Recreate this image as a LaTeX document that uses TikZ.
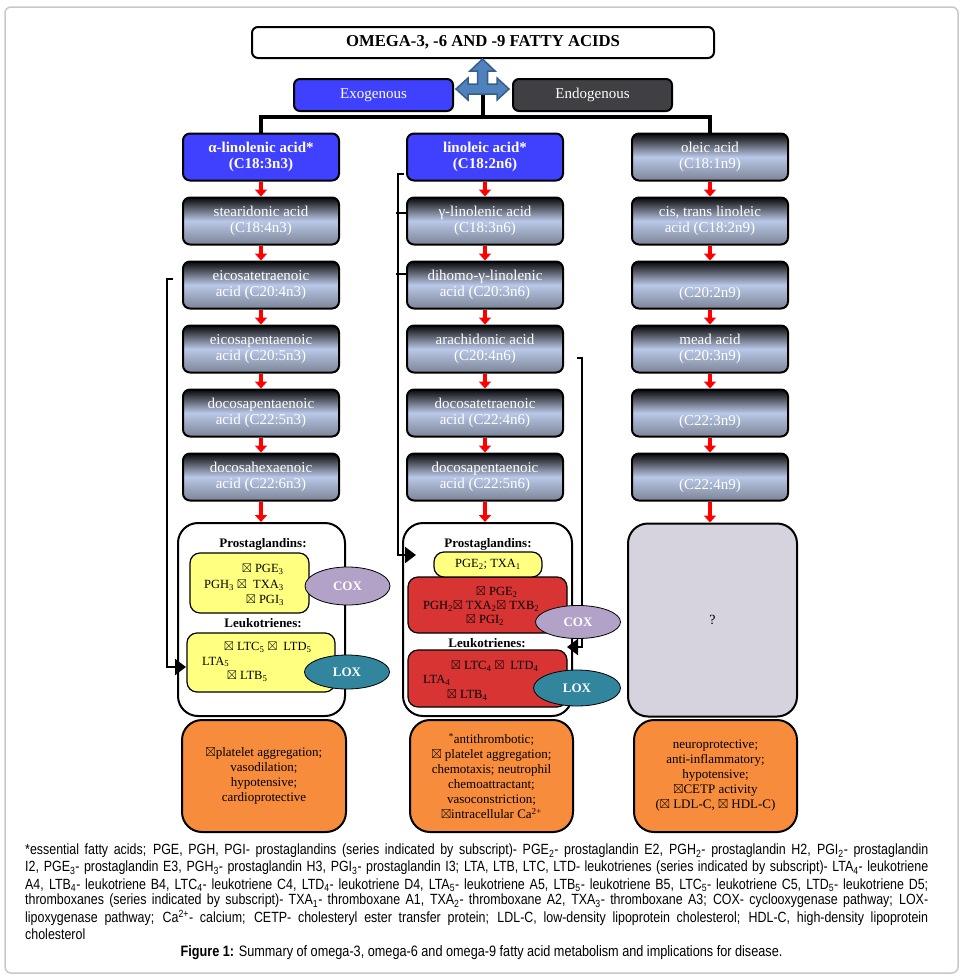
\documentclass[tikz,border=0pt]{standalone}
\usepackage{amssymb}
\usepackage{fontspec}
\setmainfont{Liberation Serif}
\newfontfamily\notefont[FakeStretch=0.84]{Liberation Sans}
\usetikzlibrary{shapes.geometric,arrows.meta}
\definecolor{exoblue}{RGB}{64,64,255}
\definecolor{endogray}{RGB}{64,64,68}
\definecolor{metbot}{RGB}{125,132,150}
\definecolor{metlight}{RGB}{185,200,232}
\definecolor{metmid}{RGB}{110,116,132}
\definecolor{mettop}{RGB}{8,8,10}
\definecolor{pgyellow}{RGB}{255,255,128}
\definecolor{pgred}{RGB}{216,52,52}
\definecolor{coxlilac}{RGB}{179,162,199}
\definecolor{loxteal}{RGB}{49,133,156}
\definecolor{effect}{RGB}{247,140,60}
\definecolor{unknown}{RGB}{214,211,222}
\definecolor{triblue}{RGB}{79,129,189}
\definecolor{triedge}{RGB}{56,93,138}
\definecolor{framegray}{RGB}{200,200,200}
\pgfdeclareverticalshading{metal}{100bp}{color(0bp)=(metbot); color(25bp)=(metbot); color(50bp)=(metlight); color(61bp)=(metmid); color(75bp)=(mettop); color(100bp)=(mettop)}
\newcommand{\crossbox}{$\boxtimes$}

\begin{document}
\begin{tikzpicture}[x=1pt,y=-1pt]
        %
        % `chain' is the common look of the acid boxes, `acid' the shaded ones,
        % `source' the blue essential ones.
        % `pool' is the big box under each chain, `enzyme' the COX/LOX ovals.
        \tikzstyle{chain} = [draw,line width=2pt,rounded corners=7pt,text=white,align=center,minimum width=156pt,minimum height=47pt,inner sep=1pt]
        \tikzstyle{acid} = [chain,shading=metal,font=\fontsize{15}{16}\selectfont]
        \tikzstyle{source} = [chain,fill=exoblue,font=\fontsize{15}{16}\selectfont\bfseries]
        \tikzstyle{origin} = [draw,line width=2pt,rounded corners=6pt,text=white,minimum width=159pt,minimum height=32pt,font=\fontsize{15}{16}\selectfont]
        \tikzstyle{pool} = [draw,line width=2pt,rounded corners=20pt,fill=white,minimum width=167pt,minimum height=193pt]
        \tikzstyle{yellowbox} = [draw,line width=1.2pt,rounded corners=10pt,fill=pgyellow,font=\fontsize{12.5}{13}\selectfont]
        \tikzstyle{redbox} = [draw,line width=1.2pt,rounded corners=10pt,fill=pgred]
        \tikzstyle{heading} = [inner sep=0pt,font=\fontsize{13}{13}\selectfont\bfseries]
        \tikzstyle{chem} = [inner sep=0pt,anchor=west,font=\fontsize{12.5}{13}\selectfont]
        \tikzstyle{enzyme} = [ellipse,draw,line width=0.8pt,text=white,minimum width=85pt,inner sep=0pt,font=\fontsize{13}{13}\selectfont\bfseries]
        \tikzstyle{effectbox} = [draw,line width=2pt,rounded corners=20pt,fill=effect,minimum width=164pt,minimum height=112pt,align=center,font=\fontsize{13}{15}\selectfont]
        \tikzstyle{redarrow} = [red,line width=4pt,-{Triangle[width=12pt,length=7pt]}]
        \tikzstyle{link} = [line width=2.5pt]
        \tikzstyle{feed} = [link,-{Triangle[width=16pt,length=11pt]}]
        \tikzstyle{tree} = [line width=3.5pt]
        \tikzstyle{note} = [inner sep=0pt,anchor=west,font=\notefont\fontsize{14.8}{15}\selectfont]
        %
        \useasboundingbox (0,0) rectangle (964,980);
        \draw[framegray,line width=1.5pt,rounded corners=6pt] (5,7) rectangle (958,973);
        %
        % Top
        \node[draw,line width=2pt,rounded corners=6pt,minimum width=462pt,minimum height=31pt,font=\fontsize{16.7}{18}\selectfont\bfseries] (title) at (483,42.5) {OMEGA-3, -6 AND -9 FATTY ACIDS};
        \node[origin,fill=exoblue] (exo) at (373.5,95) {Exogenous};
        \node[origin,fill=endogray] (endo) at (592.5,95) {Endogenous};
        \draw[fill=triblue,draw=triedge,line width=1.5pt] (482.5,59) -- (495,71) -- (487.5,71) -- (487.5,84) -- (497,84) -- (497,78) -- (509,89) -- (497,100) -- (497,94) -- (468,94) -- (468,100) -- (456,89) -- (468,78) -- (468,84) -- (477.5,84) -- (477.5,71) -- (470,71) -- cycle;
        \coordinate (stem) at (483,95);
        \coordinate (hub) at (483,117);
        %
        % Column 1 (n-3)
        \node[source] (ala) at (261,157) {α-linolenic acid*\\(C18:3n3)};
        \node[acid] (sda) at (261,221) {stearidonic acid\\(C18:4n3)};
        \node[acid] (eta) at (261,285) {eicosatetraenoic\\acid (C20:4n3)};
        \node[acid] (epa) at (261,349) {eicosapentaenoic\\acid (C20:5n3)};
        \node[acid] (dpa3) at (261,413) {docosapentaenoic\\acid (C22:5n3)};
        \node[acid] (dha) at (261,477) {docosahexaenoic\\acid (C22:6n3)};
        %
        % Column 2 (n-6)
        \node[source] (la) at (485,157) {linoleic acid*\\(C18:2n6)};
        \node[acid] (gla) at (485,221) {γ-linolenic acid\\(C18:3n6)};
        \node[acid] (dgla) at (485,285) {dihomo-γ-linolenic\\acid (C20:3n6)};
        \node[acid] (aa) at (485,349) {arachidonic acid\\(C20:4n6)};
        \node[acid] (adra) at (485,413) {docosatetraenoic\\acid (C22:4n6)};
        \node[acid] (dpa6) at (485,477) {docosapentaenoic\\acid (C22:5n6)};
        %
        % Column 3 (n-9)
        \node[acid] (ola) at (710,157) {oleic acid\\(C18:1n9)};
        \node[acid] (ctla) at (710,221) {cis, trans linoleic\\acid (C18:2n9)};
        \node[acid] (ede9) at (710,285) {\strut\\(C20:2n9)};
        \node[acid] (mead) at (710,349) {mead acid\\(C20:3n9)};
        \node[acid] (c22a) at (710,413) {\strut\\(C22:3n9)};
        \node[acid] (c22b) at (710,477) {\strut\\(C22:4n9)};
        %
        % Tree
        \draw[tree] (stem) -- (hub);
        \draw[tree] (ala.north) |- (hub) -| (ola.north);
        %
        % Pools
        \node[pool] (pool1) at (261.5,619.5) {};
        \node[pool,minimum width=169pt] (pool2) at (487.5,619.5) {};
        \node[pool,minimum width=169pt,fill=unknown,font=\fontsize{14}{14}\selectfont] (pool3) at (712.5,620) {?};
        %
        % Red arrows
        \draw[redarrow] (ala.south) -- (sda.north);
        \draw[redarrow] (sda.south) -- (eta.north);
        \draw[redarrow] (eta.south) -- (epa.north);
        \draw[redarrow] (epa.south) -- (dpa3.north);
        \draw[redarrow] (dpa3.south) -- (dha.north);
        \draw[redarrow] (dha.south) -- (dha.south |- pool1.north);
        \draw[redarrow] (la.south) -- (gla.north);
        \draw[redarrow] (gla.south) -- (dgla.north);
        \draw[redarrow] (dgla.south) -- (aa.north);
        \draw[redarrow] (aa.south) -- (adra.north);
        \draw[redarrow] (adra.south) -- (dpa6.north);
        \draw[redarrow] (dpa6.south) -- (dpa6.south |- pool2.north);
        \draw[redarrow] (ola.south) -- (ctla.north);
        \draw[redarrow] (ctla.south) -- (ede9.north);
        \draw[redarrow] (ede9.south) -- (mead.north);
        \draw[redarrow] (mead.south) -- (c22a.north);
        \draw[redarrow] (c22a.south) -- (c22b.north);
        \draw[redarrow] (c22b.south) -- (c22b.south |- pool3.north);
        %
        % Pool 1
        \node[heading] (pgt1) at (263,544) {Prostaglandins:};
        \node[yellowbox,minimum width=119pt,minimum height=60pt] (pg1) at (249.5,583) {};
        \node[chem] (pg1a) at (242,569) {\crossbox\ PGE\textsubscript{3}};
        \node[chem] (pg1b) at (204,585) {PGH\textsubscript{3} \crossbox\ \ TXA\textsubscript{3}};
        \node[chem] (pg1c) at (246,600) {\crossbox\ PGI\textsubscript{3}};
        \node[heading] (lkt1) at (263,623) {Leukotrienes:};
        \node[yellowbox,minimum width=148pt,minimum height=59pt] (lk1) at (261,662.5) {};
        \node[chem] (lk1a) at (224,647) {\crossbox\ LTC\textsubscript{5} \crossbox\ \ LTD\textsubscript{5}};
        \node[chem] (lk1b) at (202,662) {LTA\textsubscript{5}};
        \node[chem] (lk1c) at (227,676) {\crossbox\ LTB\textsubscript{5}};
        %
        % Pool 2
        \node[heading] (pgt2) at (488,544) {Prostaglandins:};
        \node[redbox,minimum width=159pt,minimum height=56pt] (pg3) at (487.5,605) {};
        \node[yellowbox,minimum width=108pt,minimum height=25pt] (pg2) at (488,564.5) {PGE\textsubscript{2}; TXA\textsubscript{1}};
        \node[chem] (pg3a) at (476,592) {\crossbox\ PGE\textsubscript{2}};
        \node[chem] (pg3b) at (423,606) {PGH\textsubscript{2}\crossbox\ TXA\textsubscript{2}\crossbox\ TXB\textsubscript{2}};
        \node[chem] (pg3c) at (466,620) {\crossbox\ PGI\textsubscript{2}};
        \node[heading] (lkt2) at (487,643) {Leukotrienes:};
        \node[redbox,minimum width=159pt,minimum height=57pt] (lk2) at (487.5,678.5) {};
        \node[chem] (lk2a) at (451,666) {\crossbox\ LTC\textsubscript{4} \crossbox\ \ LTD\textsubscript{4}};
        \node[chem] (lk2b) at (423,680) {LTA\textsubscript{4}};
        \node[chem] (lk2c) at (447,695) {\crossbox\ LTB\textsubscript{4}};
        %
        % Side links
        \coordinate (n3from) at (173,279);
        \coordinate (n3to) at (186,667);
        \draw[feed] (n3from) -- ++(-6,0) |- (n3to);
        \coordinate (n6from) at (404,174);
        \coordinate (n6to) at (416,555);
        \draw[feed] (n6from) -- ++(-6,0) |- (n6to);
        \draw[link] ([yshift=8pt]gla.west) -- ++(-10,0);
        \draw[link] ([yshift=11pt]dgla.west) -- ++(-10,0);
        \coordinate (aafrom) at (577,358);
        \coordinate (aato) at (567,647);
        \draw[feed] (aafrom) -- ++(5,0) |- (aato);
        %
        % Enzymes
        \node[enzyme,fill=coxlilac,minimum height=38pt] (cox1) at (347.5,586) {COX};
        \node[enzyme,fill=loxteal,minimum height=34pt] (lox1) at (347,672) {LOX};
        \node[enzyme,fill=coxlilac,minimum height=33pt] (cox2) at (578,622) {COX};
        \node[enzyme,fill=loxteal,minimum height=36pt,minimum width=87pt] (lox2) at (577,688) {LOX};
        %
        % Effects
        \node[effectbox] (eff1) at (264,776) {\crossbox platelet aggregation;\\vasodilation;\\hypotensive;\\cardioprotective};
        \node[effectbox,minimum width=163pt] (eff2) at (491.5,776) {\textsuperscript{*}antithrombotic;\\\crossbox\ platelet aggregation;\\chemotaxis; neutrophil\\chemoattractant;\\vasoconstriction;\\\crossbox intracellular Ca\textsuperscript{2+}};
        \node[effectbox,minimum width=163pt] (eff3) at (715.5,776) {neuroprotective;\\anti-inflammatory;\\hypotensive;\\\crossbox CETP activity\\(\crossbox\ LDL-C, \crossbox\ HDL-C)};
        %
        % Footnote and caption
        \node[note] (fn1) at (25,851) {\makebox[903pt][s]{*essential fatty acids; PGE, PGH, PGI- prostaglandins (series indicated by subscript)- PGE\textsubscript{2}- prostaglandin E2, PGH\textsubscript{2}- prostaglandin H2, PGI\textsubscript{2}- prostaglandin}};
        \node[note] (fn2) at (25,868) {\makebox[903pt][s]{I2, PGE\textsubscript{3}- prostaglandin E3, PGH\textsubscript{3}- prostaglandin H3, PGI\textsubscript{3}- prostaglandin I3; LTA, LTB, LTC, LTD- leukotrienes (series indicated by subscript)- LTA\textsubscript{4}- leukotriene}};
        \node[note] (fn3) at (25,885) {\makebox[903pt][s]{A4, LTB\textsubscript{4}- leukotriene B4, LTC\textsubscript{4}- leukotriene C4, LTD\textsubscript{4}- leukotriene D4, LTA\textsubscript{5}- leukotriene A5, LTB\textsubscript{5}- leukotriene B5, LTC\textsubscript{5}- leukotriene C5, LTD\textsubscript{5}- leukotriene D5;}};
        \node[note] (fn4) at (25,901) {\makebox[903pt][s]{thromboxanes (series indicated by subscript)- TXA\textsubscript{1}- thromboxane A1, TXA\textsubscript{2}- thromboxane A2, TXA\textsubscript{3}- thromboxane A3; COX- cyclooxygenase pathway; LOX-}};
        \node[note] (fn5) at (25,918) {\makebox[903pt][s]{lipoxygenase pathway; Ca\textsuperscript{2+}- calcium; CETP- cholesteryl ester transfer protein; LDL-C, low-density lipoprotein cholesterol; HDL-C, high-density lipoprotein}};
        \node[note] (fn6) at (25,934) {cholesterol};
        \node[note,anchor=center,font=\notefont\fontsize{15.1}{16}\selectfont] (caption) at (481.5,953) {\textbf{Figure 1:} Summary of omega-3, omega-6 and omega-9 fatty acid metabolism and implications for disease.};
        %
\end{tikzpicture}
\end{document}
